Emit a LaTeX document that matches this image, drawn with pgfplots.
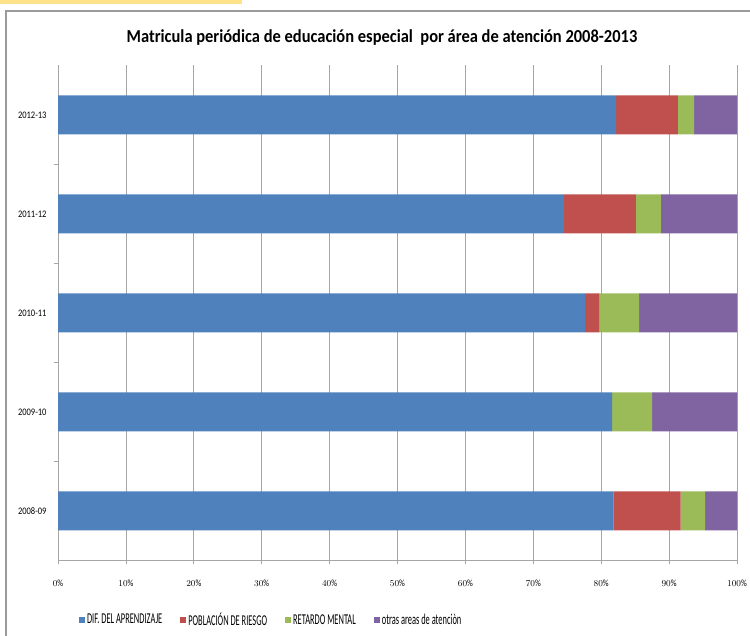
\documentclass[border=0pt]{standalone}
\usepackage{pgfplots}
\pgfplotsset{compat=1.18}
\usepackage{fontspec}
\setmainfont{Carlito}
\newfontfamily\condA[FakeStretch=0.85]{Carlito}
\newfontfamily\condB[FakeStretch=0.56]{Carlito}
\newfontfamily\condT[FakeStretch=0.9]{Carlito}
\definecolor{cblue}{HTML}{4F81BD}
\definecolor{cred}{HTML}{C0504D}
\definecolor{cgreen}{HTML}{9BBB59}
\definecolor{cpurple}{HTML}{8064A2}
\definecolor{yellowcol}{HTML}{FFE38A}
\definecolor{gridc}{HTML}{A6A6A6}
\definecolor{framec}{HTML}{9A9A9A}
\begin{document}
\begin{tikzpicture}
\path[use as bounding box] (0pt,0pt) rectangle (750pt,636pt);
\fill[yellowcol] (0pt,632pt) rectangle (242pt,636pt);
\draw[framec, line width=1.2pt] (6pt,0pt) -- (6pt,625pt) -- (750pt,625pt);
\node[font=\condT\bfseries\fontsize{18.3}{21}\selectfont] at (382pt,598pt) {Matricula periódica de educación especial\ \ por área de atención 2008-2013};
\begin{axis}[
  at={(58pt,75.5pt)}, anchor=south west,
  width=679pt, height=495pt, scale only axis,
  xbar stacked,
  xmin=0, xmax=100, ymin=-0.5, ymax=4.5,
  bar width=39pt,
  axis line style={gridc},
  axis x line*=bottom, axis y line*=left,
  xtick={0,10,...,100},
  xticklabel={\pgfmathprintnumber{\tick}\%},
  xticklabel style={font=\condA\fontsize{9.5}{11}\selectfont, yshift=-12pt},
  xmajorgrids, major grid style={gridc, line width=0.8pt},
  major x tick style={gridc, line width=0.8pt},
  xtick align=outside, major tick length=4pt,
  ytick={0,1,2,3,4},
  yticklabels={2008-09,2009-10,2010-11,2011-12,2012-13},
  yticklabel style={font=\condA\fontsize{10}{12}\selectfont, xshift=-4pt},
  major y tick style={draw=none},
  minor ytick={0.5,1.5,2.5,3.5},
  minor y tick style={gridc, line width=0.8pt},
  minor tick length=4pt, ytick align=outside,
  legend style={at={(0.314,-0.12)}, anchor=center, draw=none,
    font=\condB\fontsize{15}{17}\selectfont, legend columns=4,
    /tikz/every even column/.append style={column sep=16pt}},
  legend image code/.code={\fill[#1] (0pt,-3pt) rectangle (6pt,3pt);},
  every axis plot/.append style={draw=none},
]
\addplot[fill=cblue] coordinates {(81.8,0) (81.6,1) (77.6,2) (74.5,3) (82.2,4)};
\addplot[fill=cred] coordinates {(9.9,0) (0,1) (2.1,2) (10.6,3) (9.1,4)};
\addplot[fill=cgreen] coordinates {(3.6,0) (5.9,1) (5.9,2) (3.7,3) (2.4,4)};
\addplot[fill=cpurple] coordinates {(4.7,0) (12.5,1) (14.4,2) (11.2,3) (6.3,4)};
\legend{DIF. DEL APRENDIZAJE, POBLACIÓN DE RIESGO, RETARDO MENTAL, otras areas de atenciòn}
\end{axis}
\end{tikzpicture}
\end{document}
